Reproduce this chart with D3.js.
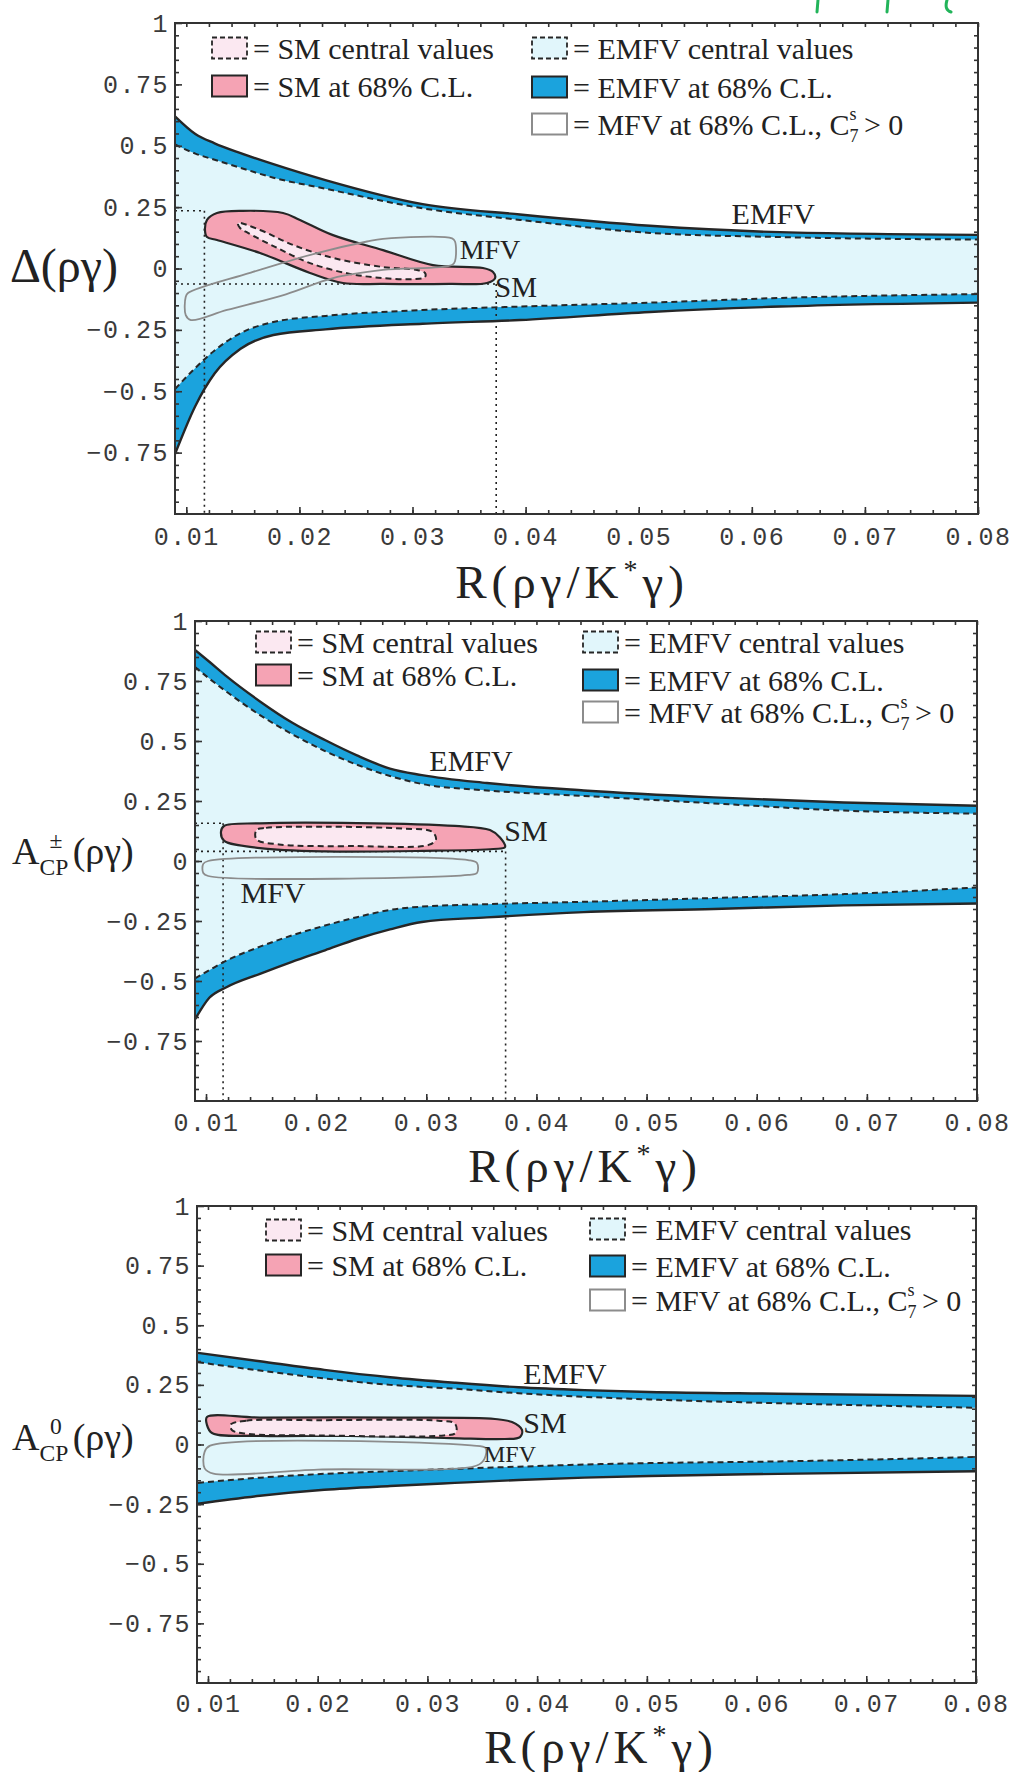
<!DOCTYPE html>
<html>
<head>
<meta charset="utf-8">
<script src="https://cdn.jsdelivr.net/npm/d3@7"></script>
<style>
  body { margin: 0; background: #fff; }
  svg { display: block; }
  .tick text { font-family: "Liberation Mono", monospace; font-size: 25px; fill: #3a3a3a; letter-spacing: 1.5px; }
  .serif { font-family: "Liberation Serif", "Times New Roman", serif; fill: #222; }
</style>
</head>
<body>
<svg id="chart" width="1018" height="1772"></svg>
<script>
// ---- shared axes ----
const xTicks = [0.01, 0.02, 0.03, 0.04, 0.05, 0.06, 0.07, 0.08];
const yTicks = [1, 0.75, 0.5, 0.25, 0, -0.25, -0.5, -0.75];

// ---- panel 1 : Delta(rho gamma) ----
const deltaX           = [0.009, 0.0108, 0.0125, 0.0148, 0.0177, 0.0223, 0.0309, 0.0395, 0.051, 0.0625, 0.080];
const deltaUpperSolid  = [0.62, 0.548, 0.51, 0.47, 0.425, 0.36, 0.262, 0.22, 0.174, 0.148, 0.137];
const deltaUpperDashed = [0.505, 0.468, 0.443, 0.41, 0.37, 0.325, 0.245, 0.198, 0.145, 0.128, 0.118];
const deltaLowerDashed = [-0.491, -0.405, -0.334, -0.263, -0.218, -0.193, -0.169, -0.155, -0.139, -0.12, -0.104];
const deltaLowerSolid  = [-0.756, -0.56, -0.428, -0.327, -0.271, -0.248, -0.225, -0.21, -0.177, -0.155, -0.139];
const deltaSmOuter = [[0.01165, 0.157], [0.01183, 0.198], [0.01271, 0.226], [0.01501, 0.235], [0.01855, 0.226],
  [0.02005, 0.198], [0.02297, 0.136], [0.02739, 0.075], [0.03181, 0.014], [0.03623, 0.002], [0.03712, -0.014],
  [0.0373, -0.039], [0.03659, -0.059], [0.03331, -0.063], [0.02739, -0.063], [0.02385, -0.059], [0.02094, -0.018],
  [0.01652, 0.063], [0.01271, 0.116], [0.01183, 0.128]];
const deltaSmInner = [[0.01457, 0.185], [0.01652, 0.157], [0.01943, 0.096], [0.02297, 0.043], [0.02739, 0.006],
  [0.0304, -0.006], [0.0311, -0.018], [0.0311, -0.035], [0.03004, -0.043], [0.02739, -0.039], [0.02447, -0.022],
  [0.02094, 0.022], [0.01802, 0.084], [0.01545, 0.145], [0.01475, 0.165]];
const deltaMfv = [[0.01015, -0.1], [0.01563, -0.018], [0.02156, 0.063], [0.02598, 0.110], [0.02739, 0.121],
  [0.0335, 0.123], [0.03376, 0.11], [0.03376, 0.03], [0.03349, 0.014], [0.02739, -0.006], [0.02297, -0.039],
  [0.01881, -0.105], [0.0136, -0.169], [0.0104, -0.21], [0.00995, -0.19], [0.00995, -0.115]];
const deltaSmCorners = [[0.0116, 0.235], [0.0374, -0.063]];

// ---- panel 2 : A_CP^pm(rho gamma) ----
const apmX           = [0.009, 0.0103, 0.0119, 0.0149, 0.0178, 0.0208, 0.0237, 0.0267, 0.0296, 0.0355, 0.0443, 0.0561, 0.0679, 0.080];
const apmUpperSolid  = [0.879, 0.83, 0.768, 0.665, 0.577, 0.504, 0.44, 0.385, 0.358, 0.325, 0.294, 0.265, 0.244, 0.23];
const apmUpperDashed = [0.808, 0.76, 0.704, 0.608, 0.529, 0.458, 0.401, 0.354, 0.321, 0.294, 0.271, 0.24, 0.21, 0.197];
const apmLowerDashed = [-0.489, -0.455, -0.414, -0.357, -0.31, -0.269, -0.234, -0.204, -0.19, -0.18, -0.17, -0.154, -0.138, -0.11];
const apmLowerSolid  = [-0.66, -0.57, -0.525, -0.47, -0.42, -0.372, -0.325, -0.285, -0.254, -0.235, -0.213, -0.2, -0.185, -0.177];
const apmSmOuter = [[0.01163, 0.146], [0.0149, 0.157], [0.02371, 0.158], [0.03261, 0.146], [0.03578, 0.129],
  [0.03669, 0.098], [0.03715, 0.058], [0.0361, 0.05], [0.02961, 0.042], [0.0208, 0.04], [0.0149, 0.054],
  [0.01163, 0.085], [0.01136, 0.122]];
const apmSmInner = [[0.01458, 0.129], [0.01545, 0.138], [0.0208, 0.143], [0.02789, 0.135], [0.03052, 0.122],
  [0.03088, 0.09], [0.03021, 0.067], [0.02371, 0.062], [0.01663, 0.069], [0.01458, 0.09]];
const apmMfv = [[0.0102, 0.0], [0.0338, 0.004], [0.0346, -0.008], [0.0346, -0.05], [0.0338, -0.058],
  [0.0102, -0.0625], [0.00975, -0.05], [0.00975, -0.012]];
const apmSmCorners = [[0.01155, 0.157], [0.0372, 0.04]];

// ---- panel 3 : A_CP^0(rho gamma) ----
const a0X           = [0.00909, 0.01474, 0.0206, 0.0266, 0.0325, 0.0383, 0.0443, 0.0502, 0.062, 0.080];
const a0UpperSolid  = [0.384, 0.349, 0.313, 0.282, 0.259, 0.24, 0.228, 0.22, 0.213, 0.204];
const a0UpperDashed = [0.345, 0.31, 0.277, 0.25, 0.234, 0.215, 0.2, 0.189, 0.173, 0.154];
const a0LowerDashed = [-0.161, -0.139, -0.123, -0.112, -0.102, -0.093, -0.084, -0.078, -0.071, -0.052];
const a0LowerSolid  = [-0.248, -0.215, -0.19, -0.174, -0.161, -0.149, -0.139, -0.132, -0.123, -0.112];
const a0SmOuter = [[0.00991, 0.115], [0.01474, 0.113], [0.0275, 0.113], [0.03616, 0.107], [0.03771, 0.094],
  [0.03862, 0.061], [0.03844, 0.031], [0.03707, 0.023], [0.03206, 0.027], [0.02294, 0.036], [0.01474, 0.036],
  [0.01037, 0.048], [0.00991, 0.082]];
const a0SmInner = [[0.01205, 0.083], [0.0135, 0.1], [0.02, 0.102], [0.031, 0.1], [0.0325, 0.088], [0.0326, 0.05],
  [0.0315, 0.038], [0.02, 0.038], [0.0135, 0.045], [0.0122, 0.06]];
const a0Mfv = [[0.0102, -0.005], [0.034, -0.004], [0.0353, -0.015], [0.0352, -0.06], [0.0345, -0.088],
  [0.02, -0.105], [0.0105, -0.122], [0.0097, -0.1], [0.0097, -0.03]];

const COL = {
  blue: '#1ba3dd', cyan: '#e1f6fb', pink: '#f5a3b4', lightPink: '#fbe8f1',
  ink: '#262626', frame: '#333', mfv: '#8c8c8c'
};

const svg = d3.select('#chart');

const drawPanel = (cfg) => {
  const { id, left, right, top, bottom } = cfg;
  const x = d3.scaleLinear().domain([0.009, 0.08]).range([left, right]);
  const y = d3.scaleLinear().domain([-1, 1]).range([bottom, top]);

  const g = svg.append('g').attr('class', 'panel-' + id);
  g.append('clipPath').attr('id', 'clip-' + id)
    .append('rect')
      .attr('x', left).attr('y', top)
      .attr('width', right - left).attr('height', bottom - top);
  const plot = g.append('g').attr('clip-path', `url(#clip-${id})`);

  // EMFV band
  const band = cfg.band;
  const area = d3.area()
    .x(d => x(d[0])).y0(d => y(d[1])).y1(d => y(d[2]))
    .curve(d3.curveMonotoneX);
  plot.append('path')
    .datum(band.xs.map((v, i) => [v, band.loSolid[i], band.upSolid[i]]))
    .attr('d', area).attr('fill', COL.blue);
  plot.append('path')
    .datum(band.xs.map((v, i) => [v, band.loDash[i], band.upDash[i]]))
    .attr('d', area).attr('fill', COL.cyan);

  // dotted projection lines of the SM region
  if (cfg.corners) {
    cfg.corners.forEach(c => {
      plot.append('line')
        .attr('x1', left).attr('x2', x(c[0]))
        .attr('y1', y(c[1])).attr('y2', y(c[1]));
      plot.append('line')
        .attr('x1', x(c[0])).attr('x2', x(c[0]))
        .attr('y1', y(c[1])).attr('y2', bottom);
    });
    plot.selectAll('line')
      .attr('stroke', '#222').attr('stroke-width', 1.6)
      .attr('stroke-dasharray', '2,4');
  }

  const line = d3.line().x(d => x(d[0])).y(d => y(d[1])).curve(d3.curveMonotoneX);
  const pts = ys => band.xs.map((v, i) => [v, ys[i]]);
  [band.upSolid, band.loSolid].forEach(ys => {
    plot.append('path').datum(pts(ys)).attr('d', line)
      .attr('fill', 'none').attr('stroke', COL.ink).attr('stroke-width', 2.4);
  });
  [band.upDash, band.loDash].forEach(ys => {
    plot.append('path').datum(pts(ys)).attr('d', line)
      .attr('fill', 'none').attr('stroke', COL.ink).attr('stroke-width', 2)
      .attr('stroke-dasharray', '6,4');
  });

  // closed regions
  const blob = d3.line().x(d => x(d[0])).y(d => y(d[1]))
    .curve(d3.curveCatmullRomClosed.alpha(0.5));
  plot.append('path').datum(cfg.smOuter).attr('d', blob)
    .attr('fill', COL.pink).attr('stroke', COL.ink).attr('stroke-width', 2.2);
  plot.append('path').datum(cfg.smInner).attr('d', blob)
    .attr('fill', COL.lightPink).attr('stroke', COL.ink).attr('stroke-width', 2)
    .attr('stroke-dasharray', '6,4');
  plot.append('path').datum(cfg.mfv).attr('d', blob)
    .attr('fill', 'none').attr('stroke', COL.mfv).attr('stroke-width', 1.8);

  // region labels
  cfg.labels.forEach(l => {
    g.append('text').attr('class', 'serif')
      .attr('x', x(l.x)).attr('y', y(l.y))
      .attr('text-anchor', 'middle')
      .attr('dominant-baseline', 'central')
      .attr('font-size', l.size || 30)
      .text(l.text);
  });

  // frame ticks, inward on all sides
  const fmtY = d => d === 1 ? '1' : d === 0 ? '0' : d3.format('.2~f')(d);
  const minorX = d3.range(0.010, 0.0801, 0.002);
  const minorY = d3.range(-0.95, 1.0, 0.05);
  const tickStyle = sel => {
    sel.select('.domain').remove();
    sel.selectAll('line').attr('stroke', COL.frame).attr('stroke-width', 1.6);
  };
  g.append('g').attr('transform', `translate(0,${bottom})`)
    .call(d3.axisBottom(x).tickValues(xTicks).tickFormat(d3.format('.2f')).tickSize(-7).tickPadding(cfg.xPad))
    .call(tickStyle);
  g.append('g').attr('transform', `translate(0,${bottom})`)
    .call(d3.axisBottom(x).tickValues(minorX).tickFormat('').tickSize(-4))
    .call(tickStyle);
  g.append('g').attr('transform', `translate(0,${top})`)
    .call(d3.axisTop(x).tickValues(minorX).tickFormat('').tickSize(-4))
    .call(tickStyle);
  g.append('g').attr('transform', `translate(${left},0)`)
    .call(d3.axisLeft(y).tickValues(yTicks).tickFormat(fmtY).tickSize(-7).tickPadding(cfg.yPad))
    .call(tickStyle);
  g.append('g').attr('transform', `translate(${left},0)`)
    .call(d3.axisLeft(y).tickValues(minorY).tickFormat('').tickSize(-4))
    .call(tickStyle);
  g.append('g').attr('transform', `translate(${right},0)`)
    .call(d3.axisRight(y).tickValues(minorY).tickFormat('').tickSize(-4))
    .call(tickStyle);
  g.selectAll('.tick text').attr('fill', '#3a3a3a');

  g.append('rect')
    .attr('x', left).attr('y', top)
    .attr('width', right - left).attr('height', bottom - top)
    .attr('fill', 'none').attr('stroke', COL.frame).attr('stroke-width', 2);

  // x title
  const xt = g.append('text').attr('class', 'serif')
    .attr('x', cfg.xTitle[0]).attr('y', cfg.xTitle[1])
    .attr('text-anchor', 'middle').attr('font-size', 47)
    .attr('letter-spacing', 5);
  xt.append('tspan').text('R(ργ/K');
  xt.append('tspan').attr('font-size', 28).attr('dy', -19).text('*');
  xt.append('tspan').attr('dy', 19).text('γ)');

  cfg.yTitle(g);
  drawLegend(g, cfg.legend);
};

const drawLegend = (g, L) => {
  const sw = 35, sh = 21;
  const rows = [
    { col: 'l', i: 0, fill: COL.lightPink, dash: true, stroke: COL.ink, text: '= SM central values' },
    { col: 'l', i: 1, fill: COL.pink, dash: false, stroke: COL.ink, text: '= SM at 68% C.L.' },
    { col: 'r', i: 0, fill: COL.cyan, dash: true, stroke: COL.ink, text: '= EMFV central values' },
    { col: 'r', i: 1, fill: COL.blue, dash: false, stroke: COL.ink, text: '= EMFV at 68% C.L.' },
    { col: 'r', i: 2, fill: '#fff', dash: false, stroke: COL.mfv, text: '= MFV at 68% C.L., C' }
  ];
  rows.forEach(r => {
    const x0 = r.col === 'l' ? L.lx : L.rx;
    const cy = (r.col === 'l' ? L.lRows : L.rRows)[r.i];
    g.append('rect')
      .attr('x', x0).attr('y', cy - sh / 2).attr('width', sw).attr('height', sh)
      .attr('fill', r.fill).attr('stroke', r.stroke)
      .attr('stroke-width', r.dash ? 1.8 : 2)
      .attr('stroke-dasharray', r.dash ? '5,3' : null);
    const t = g.append('text').attr('class', 'serif')
      .attr('x', x0 + sw + 6).attr('y', cy + 11)
      .attr('font-size', 30).text(r.text);
    if (r.i === 2) {
      t.append('tspan').attr('font-size', 18).attr('dy', 7).text('7');
      t.append('tspan').attr('font-size', 18).attr('dx', -9).attr('dy', -22).text('s');
      t.append('tspan').attr('dy', 15).text(' > 0');
    }
  });
};

const stackedA = (sup, size, x0, base) => g => {
  const t = g.append('text').attr('class', 'serif').attr('x', x0).attr('y', base).attr('font-size', size);
  t.append('tspan').text('A');
  t.append('tspan').attr('font-size', size * 0.62).attr('dy', size * 0.28).text('CP');
  const sw = size * 0.62;
  g.append('text').attr('class', 'serif')
    .attr('x', x0 + size * 0.72 + sw * 0.7).attr('y', base - size * 0.42)
    .attr('text-anchor', 'middle').attr('font-size', sw).text(sup);
  g.append('text').attr('class', 'serif')
    .attr('x', x0 + size * 0.72 + sw * 1.33 + 2).attr('y', base)
    .attr('font-size', size).text('(ργ)');
};

drawPanel({
  id: 'delta', left: 175, right: 978, top: 23, bottom: 514, xPad: 13, yPad: 6,
  band: { xs: deltaX, upSolid: deltaUpperSolid, upDash: deltaUpperDashed, loDash: deltaLowerDashed, loSolid: deltaLowerSolid },
  smOuter: deltaSmOuter, smInner: deltaSmInner, mfv: deltaMfv, corners: deltaSmCorners,
  labels: [
    { text: 'EMFV', x: 0.0619, y: 0.226 },
    { text: 'MFV', x: 0.03685, y: 0.079, size: 28 },
    { text: 'SM', x: 0.03915, y: -0.075, size: 29 }
  ],
  xTitle: [572, 598],
  yTitle: g => g.append('text').attr('class', 'serif').attr('x', 10).attr('y', 282)
    .attr('font-size', 48).text('Δ(ργ)'),
  legend: { lx: 212, rx: 532, lRows: [48, 86], rRows: [48, 87, 124] }
});

drawPanel({
  id: 'apm', left: 195, right: 977, top: 621, bottom: 1101, xPad: 12, yPad: 6,
  band: { xs: apmX, upSolid: apmUpperSolid, upDash: apmUpperDashed, loDash: apmLowerDashed, loSolid: apmLowerSolid },
  smOuter: apmSmOuter, smInner: apmSmInner, mfv: apmMfv, corners: apmSmCorners,
  labels: [
    { text: 'EMFV', x: 0.03406, y: 0.417 },
    { text: 'SM', x: 0.03905, y: 0.129 },
    { text: 'MFV', x: 0.01608, y: -0.133 }
  ],
  xTitle: [585, 1182],
  yTitle: stackedA('±', 38, 12, 864),
  legend: { lx: 256, rx: 583, lRows: [642, 675], rRows: [642, 680, 712] }
});

drawPanel({
  id: 'a0', left: 197, right: 976, top: 1206, bottom: 1683, xPad: 11, yPad: 6,
  band: { xs: a0X, upSolid: a0UpperSolid, upDash: a0UpperDashed, loDash: a0LowerDashed, loSolid: a0LowerSolid },
  smOuter: a0SmOuter, smInner: a0SmInner, mfv: a0Mfv, corners: null,
  labels: [
    { text: 'EMFV', x: 0.04254, y: 0.296 },
    { text: 'SM', x: 0.04072, y: 0.094 },
    { text: 'MFV', x: 0.03753, y: -0.038, size: 24 }
  ],
  xTitle: [601, 1763],
  yTitle: stackedA('0', 38, 12, 1450),
  legend: { lx: 266, rx: 590, lRows: [1230, 1265], rRows: [1229, 1266, 1300] }
});

// green pen marks at the top right of the scanned page
svg.append('path')
  .attr('d', 'M818,0 L817,12 M888,0 L887,12 M947,0 Q944,10 951,12')
  .attr('fill', 'none').attr('stroke', '#22b45a').attr('stroke-width', 3)
  .attr('stroke-linecap', 'round');
</script>
</body>
</html>
